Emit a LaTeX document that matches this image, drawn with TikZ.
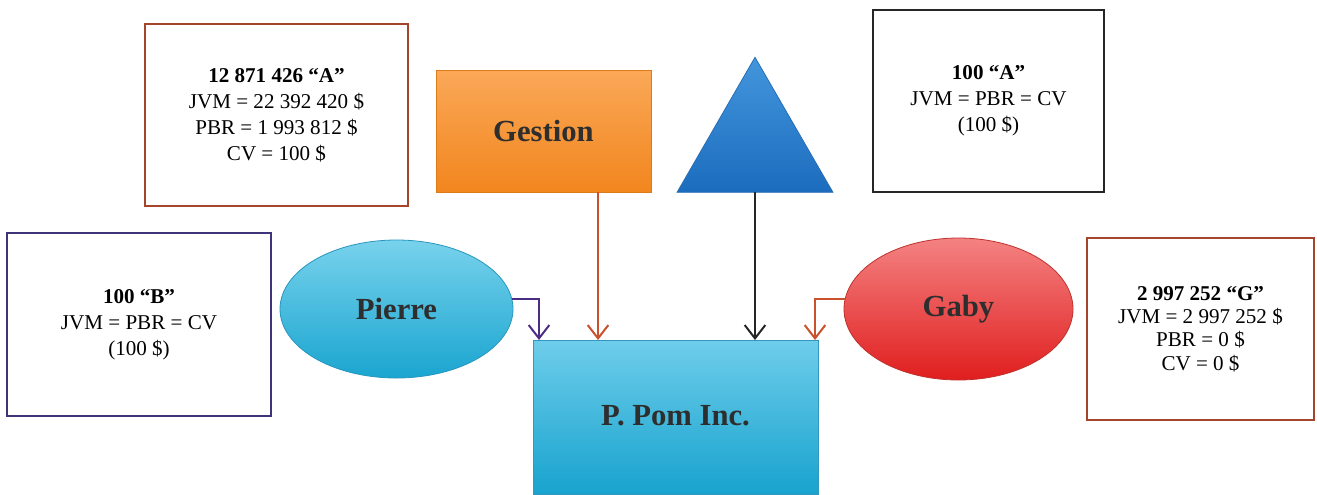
\documentclass[tikz,border=0pt]{standalone}
\usepackage{fontspec}
\setmainfont{Liberation Serif}
\usetikzlibrary{shapes.geometric,arrows.meta,calc}

\definecolor{rust}{HTML}{A4452C}
\definecolor{violetline}{HTML}{3E3479}
\definecolor{arrowrust}{HTML}{C9512B}
\definecolor{arrowviolet}{HTML}{4B2E83}
\definecolor{labelgray}{HTML}{2E2E2E}

\tikzset{
  infobox/.style={draw, line width=1.6pt, fill=white, align=center,
    font=\fontsize{15.8}{19.5}\selectfont, inner sep=0pt, outer sep=0pt},
  shapelabel/.style={font=\fontsize{23}{27}\selectfont\bfseries, text=labelgray,
    inner sep=0pt, outer sep=0pt},
  link/.style={line width=1.5pt, -{Straight Barb[length=10pt,width=15.5pt,line width=1.5pt]}},
}

\begin{document}
\begin{tikzpicture}[x=0.75pt,y=-0.75pt]
\useasboundingbox (0,0) rectangle (1317,494);

% information boxes
\node[infobox, draw=rust, minimum width=197.25pt, minimum height=136.5pt] (boxA) at (276.5,115)
  {\textbf{12 871 426 “A”}\\JVM = 22 392 420 \$\\PBR = 1 993 812 \$\\CV = 100 \$};
\node[infobox, draw=black!85, minimum width=173.25pt, minimum height=136.5pt] (boxT) at (988.5,101)
  {\textbf{100 “A”}\\JVM = PBR = CV\\(100 \$)};
\node[infobox, draw=violetline, minimum width=198pt, minimum height=137.25pt] (boxB) at (139,324.5)
  {\textbf{100 “B”}\\JVM = PBR = CV\\(100 \$)};
\node[infobox, draw=rust, minimum width=170.25pt, minimum height=136.5pt,
  font=\fontsize{15.8}{17.5}\selectfont] (boxG) at (1200.5,329)
  {\textbf{2 997 252 “G”}\\JVM = 2 997 252 \$\\PBR = 0 \$\\CV = 0 \$};

% shareholders and company
\node[shapelabel, draw=orange!85!black!90, line width=0.6pt, top color={rgb,255:red,250;green,168;blue,88},
  bottom color={rgb,255:red,242;green,134;blue,30}, minimum width=161.25pt, minimum height=91.5pt]
  (gestion) at (543.5,131) {Gestion};

\node[regular polygon, regular polygon sides=3, minimum size=135pt, inner sep=0pt, outer sep=0pt,
  draw={rgb,255:red,40;green,110;blue,180}, line width=0.6pt,
  top color={rgb,255:red,66;green,150;blue,220}, bottom color={rgb,255:red,28;green,108;blue,190}]
  (trust) at (755,147.3) {};

\node[ellipse, shapelabel, draw={rgb,255:red,40;green,150;blue,190}, line width=0.6pt,
  top color={rgb,255:red,120;green,210;blue,236}, bottom color={rgb,255:red,26;green,165;blue,208},
  minimum width=174.75pt, minimum height=103.5pt] (pierre) at (396.5,309) {Pierre};

\node[ellipse, shapelabel, draw={rgb,255:red,190;green,50;blue,45}, line width=0.6pt,
  top color={rgb,255:red,244;green,130;blue,130}, bottom color={rgb,255:red,224;green,30;blue,30},
  minimum width=171.75pt, minimum height=106.5pt] (gaby) at (958.5,309) {\raisebox{-3pt}{Gaby}};

\node[shapelabel, draw={rgb,255:red,50;green,150;blue,190}, line width=0.6pt,
  top color={rgb,255:red,110;green,205;blue,234}, bottom color={rgb,255:red,24;green,163;blue,206},
  minimum width=213.75pt, minimum height=115.5pt] (pom) at (675.5,417) {\raisebox{2pt}{P. Pom Inc.}};

% holdings
\draw[link, arrowviolet] (pierre.5) -| ([xshift=4.5pt]pom.north west);
\draw[link, arrowrust] ([xshift=40.9pt]gestion.south) -- ([xshift=40.9pt]gestion.south |- pom.north);
\draw[link, black!85] (trust.south) -- (trust.south |- pom.north);
\draw[link, arrowrust] (gaby.175) -| ([xshift=-2.25pt]pom.north east);
\end{tikzpicture}
\end{document}
